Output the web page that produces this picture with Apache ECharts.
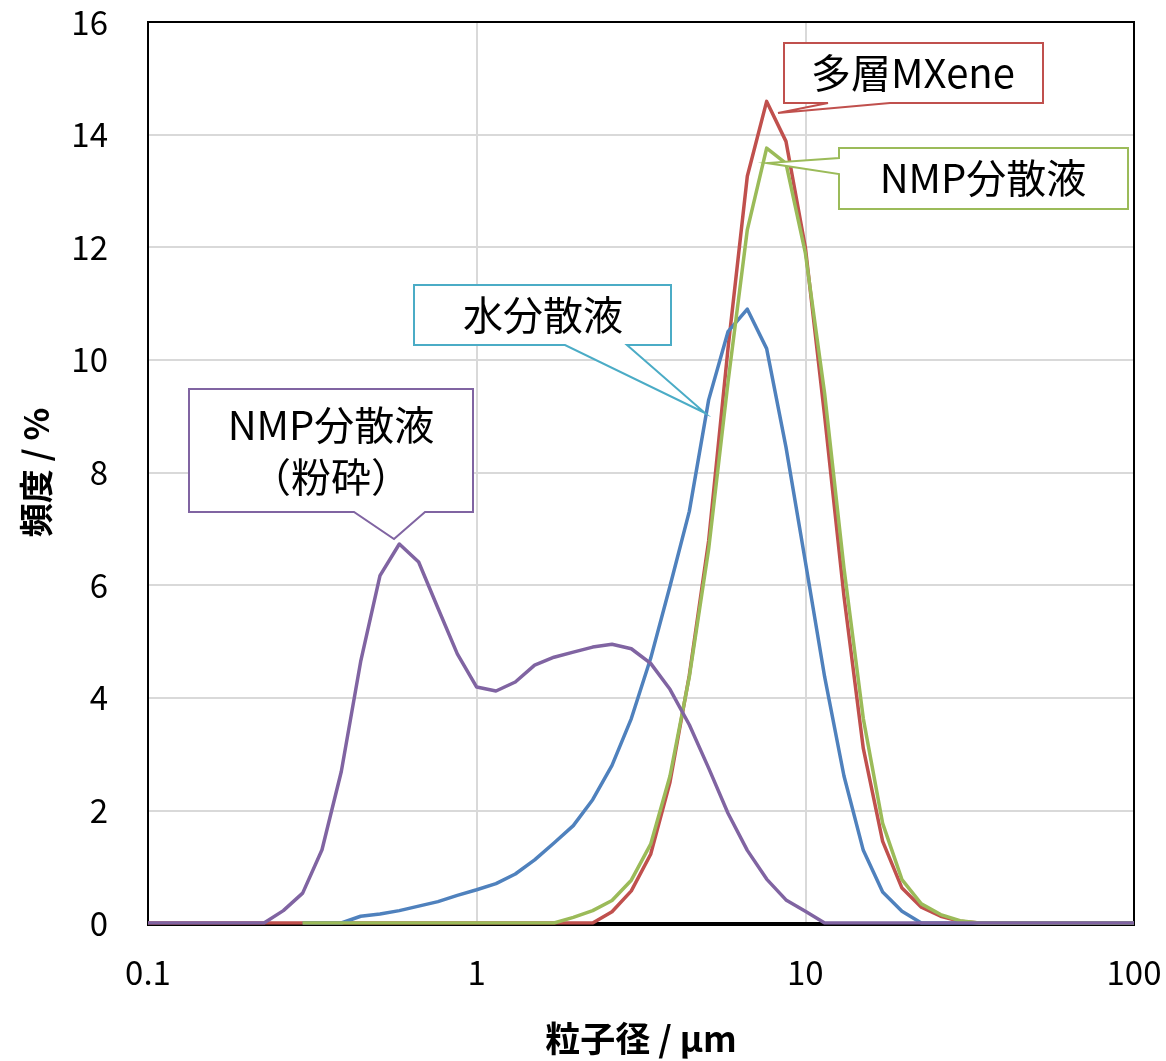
<!DOCTYPE html>
<html>
<head>
<meta charset="utf-8">
<script src="https://cdn.jsdelivr.net/npm/echarts@6/dist/echarts.min.js"></script>
<style>
html,body{margin:0;padding:0;background:#fff;}
#c{width:1166px;height:1061px;}
</style>
</head>
<body>
<div id="c"></div>
<script>
// Particle size bins (µm)
const sizes = [0.1, 0.1145, 0.1311, 0.1501, 0.1719, 0.1968, 0.2254, 0.2581, 0.2955, 0.3384,
  0.3874, 0.4436, 0.508, 0.5817, 0.666, 0.7626, 0.8732, 1, 1.145, 1.311,
  1.501, 1.719, 1.968, 2.254, 2.581, 2.955, 3.384, 3.874, 4.436, 5.08,
  5.817, 6.66, 7.626, 8.732, 10, 11.45, 13.11, 15.01, 17.19, 19.68,
  22.54, 25.81, 29.55, 33.84, 38.74, 44.36, 50.8, 58.17, 66.6, 76.26,
  87.32, 100];

// 多層MXene
const multilayer = [0, 0, 0, 0, 0, 0, 0, 0, 0, 0,
  0, 0, 0, 0, 0, 0, 0, 0, 0, 0,
  0, 0, 0, 0, 0.2, 0.57, 1.22, 2.5, 4.4, 6.79,
  10.2, 13.26, 14.59, 13.88, 12.0, 9.0, 5.8, 3.1, 1.45, 0.62,
  0.28, 0.12, 0.03, 0, 0, 0, 0, 0, 0, 0,
  0, 0];

// 水分散液
const waterDisp = [null, null, null, null, null, null, null, null, 0, 0,
  0, 0.12, 0.16, 0.22, 0.3, 0.38, 0.49, 0.59, 0.7, 0.87,
  1.12, 1.42, 1.73, 2.19, 2.8, 3.63, 4.7, 5.98, 7.31, 9.29,
  10.5, 10.9, 10.2, 8.45, 6.42, 4.37, 2.61, 1.29, 0.55, 0.21,
  0, 0, 0, 0, 0, 0, 0, 0, 0, 0,
  0, 0];

// NMP分散液
const nmpDisp = [null, null, null, null, null, null, null, null, 0, 0,
  0, 0, 0, 0, 0, 0, 0, 0, 0, 0,
  0, 0, 0.1, 0.22, 0.4, 0.76, 1.4, 2.61, 4.37, 6.64,
  9.6, 12.31, 13.76, 13.49, 11.9, 9.4, 6.3, 3.63, 1.77, 0.77,
  0.34, 0.15, 0.04, 0, 0, 0, 0, 0, 0, 0,
  0, 0];

// NMP分散液（粉砕）
const nmpMilled = [0, 0, 0, 0, 0, 0, 0, 0.22, 0.53, 1.3,
  2.69, 4.64, 6.17, 6.73, 6.41, 5.59, 4.78, 4.19, 4.12, 4.28,
  4.58, 4.72, 4.81, 4.9, 4.95, 4.87, 4.61, 4.15, 3.52, 2.75,
  1.95, 1.29, 0.78, 0.41, 0.21, 0, 0, 0, 0, 0,
  0, 0, 0, 0, 0, 0, 0, 0, 0, 0,
  0, 0];

const yTicks = [0, 2, 4, 6, 8, 10, 12, 14, 16];
const xTicks = [0.1, 1, 10, 100];

function pairs(vals) {
  const out = [];
  for (let i = 0; i < sizes.length; i++) {
    if (vals[i] !== null && vals[i] !== undefined) out.push([sizes[i], vals[i]]);
  }
  return out;
}

const FONT = '"Noto Sans CJK JP", "Noto Sans", sans-serif';
const chart = echarts.init(document.getElementById('c'), null, {renderer: 'canvas'});

function mkSeries(name, vals, color) {
  return {
    name: name, type: 'line', data: pairs(vals), showSymbol: false, symbol: 'none',
    smooth: false, animation: false, z: 3,
    lineStyle: {color: color, width: 3.5, join: 'round'},
    itemStyle: {color: color}
  };
}

const G = {left: 148, right: 32, top: 22, bottom: 136};

chart.setOption({
  animation: false,
  backgroundColor: '#fff',
  grid: {left: G.left, right: G.right, top: G.top, bottom: G.bottom, show: false},
  xAxis: {
    type: 'log', logBase: 10, min: xTicks[0], max: xTicks[xTicks.length - 1],
    name: '粒子径 / μm', nameLocation: 'middle', nameGap: 98,
    nameTextStyle: {fontFamily: FONT, fontSize: 35, fontWeight: 'bold', color: '#000'},
    axisLine: {show: true, lineStyle: {color: '#000', width: 2}},
    axisTick: {show: false},
    splitLine: {show: true, lineStyle: {color: '#D9D9D9', width: 2}},
    minorSplitLine: {show: false},
    axisLabel: {fontFamily: FONT, fontSize: 33, color: '#000', margin: 33,
      formatter: function (v) { return xTicks.indexOf(Number(v.toPrecision(3))) >= 0 ? String(Number(v.toPrecision(3))) : ''; }}
  },
  yAxis: {
    type: 'value', min: yTicks[0], max: yTicks[yTicks.length - 1], interval: 2,
    name: '頻度 / %', nameLocation: 'middle', nameGap: 95, nameRotate: 90,
    nameTextStyle: {fontFamily: FONT, fontSize: 34, fontWeight: 'bold', color: '#000'},
    axisLine: {show: true, lineStyle: {color: '#000', width: 2}},
    axisTick: {show: false},
    splitLine: {show: true, lineStyle: {color: '#D9D9D9', width: 2}},
    axisLabel: {fontFamily: FONT, fontSize: 33, color: '#000', margin: 40}
  },
  series: [
    mkSeries('多層MXene', multilayer, '#C0504D'),
    mkSeries('水分散液', waterDisp, '#4F81BD'),
    mkSeries('NMP分散液', nmpDisp, '#9BBB59'),
    mkSeries('NMP分散液（粉砕）', nmpMilled, '#8064A2')
  ]
});

function callout(points, color, texts) {
  const els = [{
    type: 'polygon', z: 100,
    shape: {points: points},
    style: {fill: '#fff', stroke: color, lineWidth: 2}
  }];
  texts.forEach(function (t) {
    els.push({
      type: 'text', z: 101, x: t[1], y: t[2],
      style: {text: t[0], fill: '#000', font: '40px ' + FONT, align: 'center', verticalAlign: 'middle'}
    });
  });
  return els;
}

// plot-area frame (top and right edges)
const frame = [{
  type: 'rect', z: 1, silent: true,
  shape: {x: G.left, y: G.top, width: 1166 - G.left - G.right, height: 1061 - G.top - G.bottom},
  style: {fill: 'none', stroke: '#000', lineWidth: 2}
}];

const g = frame
  .concat(callout([[784,43],[1043,43],[1043,103],[890,103],[778,113],[828,103],[784,103]], '#C0504D', [['多層MXene', 913, 73]]))
  .concat(callout([[839,148],[1128,148],[1128,209],[839,209],[839,174],[767,163],[839,158]], '#9BBB59', [['NMP分散液', 983, 178]]))
  .concat(callout([[414,285],[671,285],[671,345],[627,345],[705,413],[565,345],[414,345]], '#4BACC6', [['水分散液', 543, 315]]))
  .concat(callout([[189,389],[473,389],[473,512],[425,512],[394,539],[354,512],[189,512]], '#8064A2', [['NMP分散液', 331, 425], ['（粉砕）', 331, 477]]));

chart.setOption({graphic: {elements: g}});
</script>
</body>
</html>
